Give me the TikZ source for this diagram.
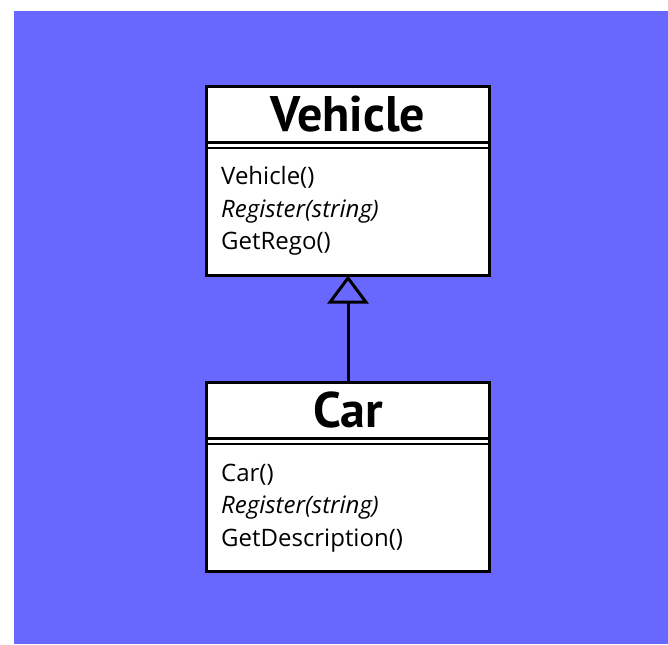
\documentclass[tikz,border=0pt]{standalone}
\usepackage{fontspec}
\setmainfont{Open Sans}
\newfontfamily\titlefont{PT Sans}
\usetikzlibrary{arrows.meta,calc}
\definecolor{bgblue}{RGB}{104,104,255}
\begin{document}
\begin{tikzpicture}[x=1pt,y=-1pt,
  classbox/.style={draw=black, line width=3pt, fill=white, rectangle,
    minimum width=283pt, minimum height=189pt, outer sep=0pt, inner sep=0pt},
  classtitle/.style={anchor=base, inner sep=0pt,
    font=\titlefont\bfseries\fontsize{50}{50}\selectfont},
  member/.style={anchor=base west, inner sep=0pt,
    font=\fontsize{24}{24}\selectfont},
  septhick/.style={line width=3pt},
  septhin/.style={line width=2.5pt},
  inherit/.style={line width=3pt,
    -{Triangle[open, width=41pt, length=28pt, line width=3pt]}}
]
\useasboundingbox (0,0) rectangle (668,644);
\fill[bgblue] (14,11) rectangle (668,644);

% class boxes
\node[classbox] (vehicle) at (348,181) {};
\node[classbox] (car) at (348,477) {};

% header separators (double rule)
\foreach \c in {vehicle,car}{
  \draw[septhick] ($(\c.north west)+(0,56)$) -- ($(\c.north east)+(0,56)$);
  \draw[septhin] ($(\c.north west)+(0,61.5)$) -- ($(\c.north east)+(0,61.5)$);
}

% class names
\node[classtitle] (vehicletitle) at ($(vehicle.north)+(0,45.5)$) {Vehicle};
\node[classtitle] (cartitle) at ($(car.north)+(0,44.5)$) {Car};

% operations
\node[member] (v1) at ($(vehicle.north west)+(14.5,98)$) {Vehicle()};
\node[member] (v2) at ($(vehicle.north west)+(14.5,130.5)$) {\itshape Register(string)};
\node[member] (v3) at ($(vehicle.north west)+(14.5,163)$) {GetRego()};

\node[member] (c1) at ($(car.north west)+(14.5,99)$) {Car()};
\node[member] (c2) at ($(car.north west)+(14.5,131)$) {\itshape Register(string)};
\node[member] (c3) at ($(car.north west)+(14.5,163.5)$) {GetDescription()};

% generalisation
\draw[inherit] (car.north) -- (vehicle.south);
\end{tikzpicture}
\end{document}
